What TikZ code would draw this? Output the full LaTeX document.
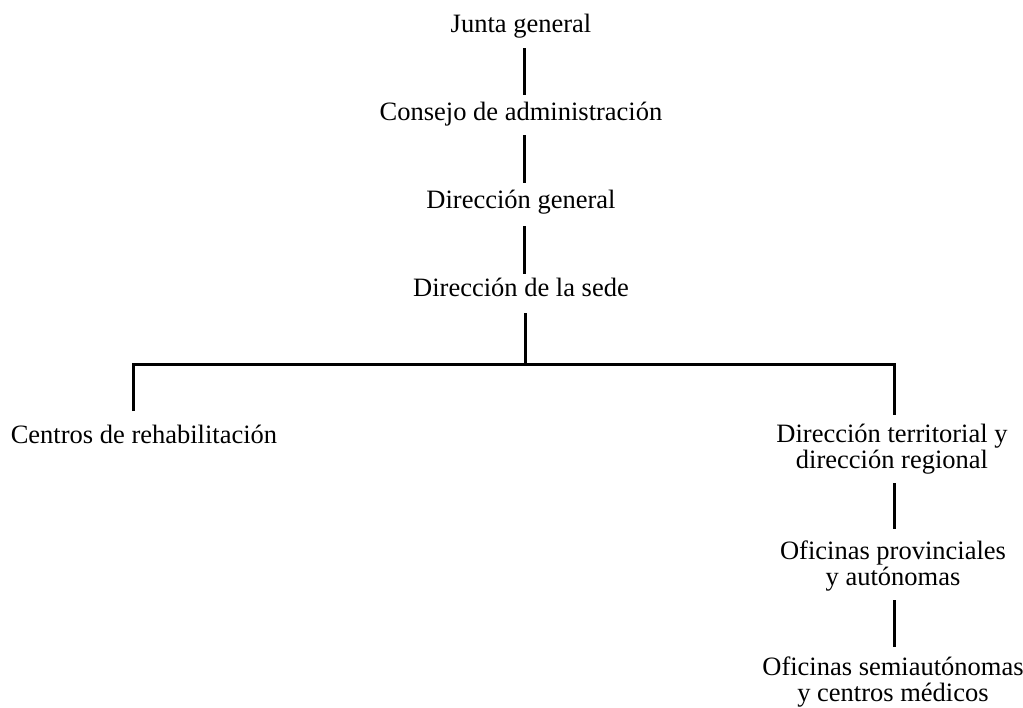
\documentclass[tikz,border=0pt]{standalone}
\usepackage{fontspec}
\setmainfont{Liberation Serif}
\usetikzlibrary{calc}
\begin{document}
\begin{tikzpicture}[x=1pt,y=-1pt,
  unit/.style={font=\fontsize{26.5}{26}\selectfont, align=center, inner xsep=0pt, inner ysep=0pt, anchor=base},
  link/.style={line width=3pt, line cap=butt, line join=miter}]
\useasboundingbox (0,0) rectangle (1023,707);
% nodes (placed by baseline of last line)
\node[unit] (jg) at (521,32) {Junta general};
\node[unit] (ca) at (521,120) {Consejo de administración};
\node[unit] (dg) at (521,208) {Dirección general};
\node[unit] (ds) at (521,296) {Dirección de la sede};
\node[unit] (cr) at (144,443) {Centros de rehabilitación};
\node[unit] (dt) at (892,468) {Dirección territorial y\\dirección regional};
\node[unit] (op) at (893,585) {Oficinas provinciales\\y autónomas};
\node[unit] (os) at (893,701) {Oficinas semiautónomas\\y centros médicos};
% bus coordinates
\coordinate (bl) at (133,364);
\coordinate (bm) at (525,364);
\coordinate (br) at (894,364);
% connectors
\draw[link] ($(jg.base)+(3,16)$) -- ($(ca.base)+(3,-25)$);
\draw[link] ($(ca.base)+(3,15)$) -- ($(dg.base)+(3,-25)$);
\draw[link] ($(dg.base)+(3,18)$) -- ($(ds.base)+(3,-22)$);
\draw[link] ($(ds.base)+(4,17)$) -- (bm);
\draw[link] ($(cr.base -| bl)+(0,-32)$) -- (bl) -- (br) -- ($(dt.base -| br)+(0,-53)$);
\draw[link] ($(dt.base -| br)+(0,15)$) -- ($(op.base -| br)+(0,-56)$);
\draw[link] ($(op.base -| br)+(0,15)$) -- ($(os.base -| br)+(0,-54)$);
\end{tikzpicture}
\end{document}
